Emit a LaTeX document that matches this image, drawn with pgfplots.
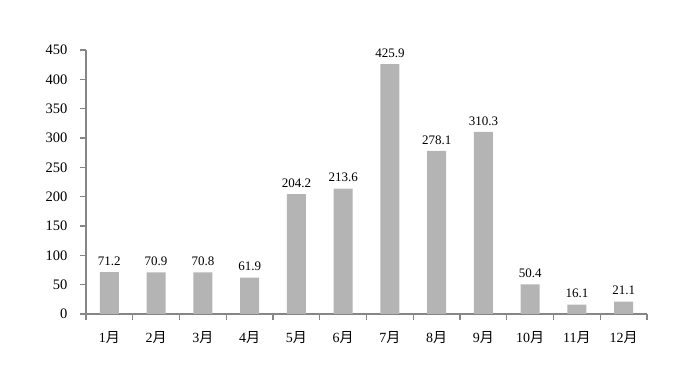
\documentclass[border=0pt]{standalone}
\usepackage{fontspec}
\setmainfont{Liberation Serif}
\newfontfamily\cjk{Noto Sans CJK SC}
\usepackage{pgfplots}
\pgfplotsset{compat=1.18}
\definecolor{bargray}{RGB}{180,180,180}
\definecolor{axgray}{RGB}{134,134,134}
\begin{document}
\begin{tikzpicture}
\begin{axis}[
  scale only axis,
  width=561pt, height=264pt,
  xmin=-0.5, xmax=11.5,
  ymin=0, ymax=450,
  ytick={0,50,...,450},
  xtick={0,...,11},
  xticklabels={1{\cjk 月},2{\cjk 月},3{\cjk 月},4{\cjk 月},5{\cjk 月},6{\cjk 月},7{\cjk 月},8{\cjk 月},9{\cjk 月},10{\cjk 月},11{\cjk 月},12{\cjk 月}},
  minor xtick={-0.5,0.5,...,11.5},
  axis x line*=bottom,
  axis y line*=left,
  axis line style={axgray, line width=1.6pt, -},
  major x tick style={draw=none},
  minor x tick style={axgray, line width=1.4pt},
  y tick style={axgray, line width=1.4pt},
  tick align=outside,
  major tick length=6pt,
  minor tick length=6pt,
  /pgf/number format/assume math mode=true,
  yticklabel style={font=\fontsize{14.5}{16}\selectfont, text=black, xshift=-9pt},
  xticklabel style={font=\fontsize{14}{16}\selectfont, text=black, yshift=-8pt},
  ybar, bar width=0.41,
  nodes near coords,
  nodes near coords style={font=\fontsize{13}{15}\selectfont, text=black, yshift=3pt, /pgf/number format/.cd, fixed, fixed zerofill, precision=1},
  clip=false,
]
\addplot[fill=bargray, draw=none] coordinates {
(0,71.2) (1,70.9) (2,70.8) (3,61.9) (4,204.2) (5,213.6)
(6,425.9) (7,278.1) (8,310.3) (9,50.4) (10,16.1) (11,21.1)};
\end{axis}
\pgfresetboundingbox
\path (-86pt,-57pt) rectangle (591pt,314pt);
\end{tikzpicture}
\end{document}
